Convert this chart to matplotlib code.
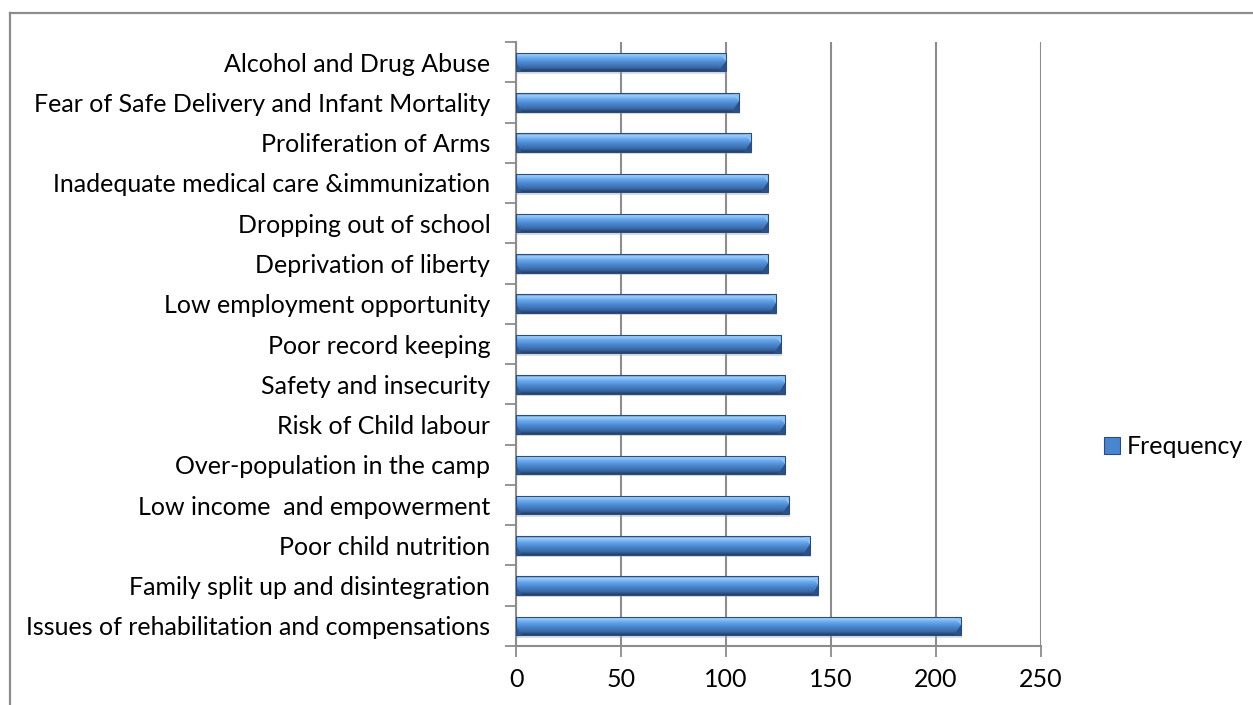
import numpy as np
import matplotlib
matplotlib.use("Agg")
import matplotlib.pyplot as plt
from matplotlib.patches import Rectangle, Polygon, Patch
from matplotlib.lines import Line2D
from matplotlib.colors import LinearSegmentedColormap

categories = [
    "Alcohol and Drug Abuse",
    "Fear of Safe Delivery and Infant Mortality",
    "Proliferation of Arms",
    "Inadequate medical care &immunization",
    "Dropping out of school",
    "Deprivation of liberty",
    "Low employment opportunity",
    "Poor record keeping",
    "Safety and insecurity",
    "Risk of Child labour",
    "Over-population in the camp",
    "Low income  and empowerment",
    "Poor child nutrition",
    "Family split up and disintegration",
    "Issues of rehabilitation and compensations",
]
frequency = [100, 106, 112, 120, 120, 120, 124, 126, 128, 128, 128, 130, 140, 144, 212]
x_ticks = [0, 50, 100, 150, 200, 250]
series_name = "Frequency"

plt.rcParams["font.family"] = ["Lato", "DejaVu Sans"]
FS = 18

W, H = 1253, 705
fig = plt.figure(figsize=(W / 100, H / 100), dpi=100)
ax = fig.add_axes([516 / W, 1 - 646 / H, (1041 - 516) / W, (646 - 42) / H])

grid_c = "#8c8c8c"
bar_h = 0.46
chamfer = 3.2

# vertical shading for the cylinder-like bars
shade = LinearSegmentedColormap.from_list(
    "barshade",
    [(0.0, "#5a8ccb"), (0.12, "#9fd0f8"), (0.3, "#6aaaf0"),
     (0.55, "#4b88d0"), (0.82, "#3a6aa8"), (1.0, "#243f66")],
)
grad = np.linspace(0, 1, 64).reshape(-1, 1)

for i, v in enumerate(frequency):
    top, bot = i - bar_h / 2, i + bar_h / 2
    # soft drop shadow
    ax.add_patch(Rectangle((0.5, top + 0.06), v, bar_h, facecolor="#9aa6b4",
                           edgecolor="none", alpha=0.35, zorder=2))
    clip = Rectangle((0, top), v, bar_h, transform=ax.transData,
                     facecolor="none", edgecolor="none")
    ax.add_patch(clip)
    im = ax.imshow(grad, cmap=shade, extent=(0, v, bot, top), origin="upper",
                   aspect="auto", interpolation="bilinear", zorder=3)
    im.set_clip_path(clip)
    # bevelled right end
    ax.add_patch(Polygon([(v - chamfer, top), (v, top), (v, top + bar_h * 0.45)],
                         closed=True, facecolor="#8fc2f2", edgecolor="none", zorder=4))
    ax.add_patch(Polygon([(v, top + bar_h * 0.45), (v, bot), (v - chamfer, bot)],
                         closed=True, facecolor="#2b5188", edgecolor="none", zorder=4))
    # bevelled left end
    ax.add_patch(Polygon([(0, top + bar_h * 0.5), (chamfer * 0.8, bot), (0, bot)],
                         closed=True, facecolor="#2f5a92", edgecolor="none", zorder=4))
    ax.add_patch(Rectangle((0, top), v, bar_h, facecolor="none",
                           edgecolor="#2a4d7e", linewidth=0.8, zorder=5))

ax.set_xlim(0, 250)
ax.set_ylim(len(categories) - 0.5, -0.5)
ax.set_xticks(x_ticks)
ax.set_xticklabels([str(t) for t in x_ticks], fontsize=FS)
ax.set_yticks(range(len(categories)))
ax.set_yticklabels(categories, fontsize=FS)
ax.set_yticks(np.arange(-0.5, len(categories), 1.0), minor=True)

ax.tick_params(axis="y", which="major", length=0, pad=18.5)
ax.tick_params(axis="y", which="minor", length=8, width=1.3, color=grid_c, direction="out")
ax.tick_params(axis="x", which="major", length=8, width=1.3, color=grid_c, direction="out", pad=8)

ax.xaxis.grid(True, color=grid_c, linewidth=1.5, zorder=0)
ax.set_axisbelow(True)
for side in ("top", "right"):
    ax.spines[side].set_visible(False)
for side in ("left", "bottom"):
    ax.spines[side].set_color(grid_c)
    ax.spines[side].set_linewidth(1.5)

# legend
handle = Patch(facecolor="#4a86cf", edgecolor="#2a4d7e", linewidth=0.8)
fig.legend(handles=[handle], labels=[series_name], loc="center left",
           bbox_to_anchor=(1104 / W, 1 - 447 / H), frameon=False, fontsize=FS,
           handlelength=0.65, handleheight=0.65, handletextpad=0.25,
           borderaxespad=0, borderpad=0)

# outer chart border
fig.add_artist(Line2D([10 / W, 1.0], [1 - 13 / H, 1 - 13 / H], color=grid_c, linewidth=1.6))
fig.add_artist(Line2D([10 / W, 10 / W], [0.0, 1 - 13 / H], color=grid_c, linewidth=1.6))

fig.savefig("out.png", dpi=100, facecolor="white")
